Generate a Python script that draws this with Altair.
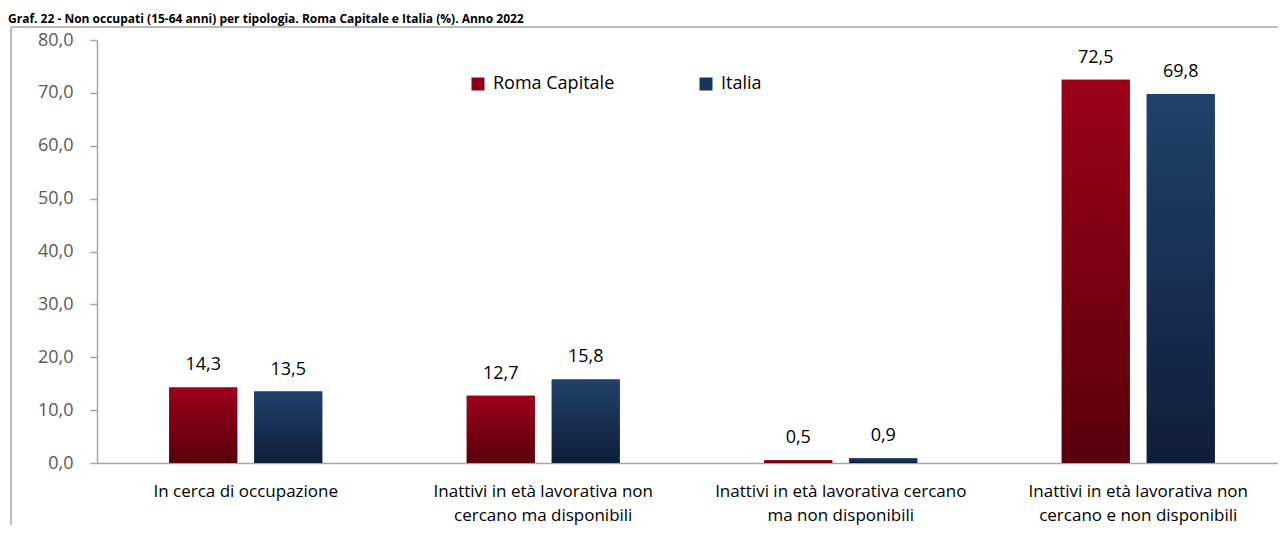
import altair as alt
import pandas as pd

title_text = "Graf. 22 - Non occupati (15-64 anni) per tipologia. Roma Capitale e Italia (%). Anno 2022"
categories = [
    "In cerca di occupazione",
    "Inattivi in età lavorativa non|cercano ma disponibili",
    "Inattivi in età lavorativa cercano|ma non disponibili",
    "Inattivi in età lavorativa non|cercano e non disponibili",
]
series = ["Roma Capitale", "Italia"]
roma = [14.3, 12.7, 0.5, 72.5]
italia = [13.5, 15.8, 0.9, 69.8]
y_ticks = [0, 10, 20, 30, 40, 50, 60, 70, 80]

rows = []
for c, r, i in zip(categories, roma, italia):
    rows.append({"cat": c, "serie": series[0], "val": r})
    rows.append({"cat": c, "serie": series[1], "val": i})
df = pd.DataFrame(rows)

FONT = "Open Sans"
GREY = "#A6A6A6"

base = alt.Chart(df).transform_calculate(
    lbl="replace(format(datum.val, '.1f'), '.', ',')"
)

x_enc = alt.X(
    "cat:N",
    sort=categories,
    scale=alt.Scale(range=[0, 1190], paddingInner=0, paddingOuter=0),
    axis=alt.Axis(
        title=None,
        labelExpr="split(datum.label, '|')",
        labelAngle=0,
        ticks=False,
        domainColor=GREY,
        domainWidth=1.5,
        labelFont=FONT,
        labelFontSize=17,
        labelColor="#000000",
        labelPadding=20,
        labelLimit=0,
        labelLineHeight=24,
    ),
)
xo_enc = alt.XOffset(
    "serie:N", sort=series, scale=alt.Scale(paddingInner=0.2, paddingOuter=0.85)
)
y_enc = alt.Y(
    "val:Q",
    scale=alt.Scale(domain=[0, 80], nice=False),
    axis=alt.Axis(
        title=None,
        values=y_ticks,
        labelExpr="replace(format(datum.value, '.1f'), '.', ',')",
        grid=False,
        tickSize=7,
        tickColor=GREY,
        domainColor=GREY,
        domainWidth=1.5,
        tickWidth=1.5,
        labelFont=FONT,
        labelFontSize=18,
        labelColor="#595959",
        labelPadding=17,
    ),
)

legend_bars = base.mark_bar().encode(
    x=x_enc,
    xOffset=xo_enc,
    y=y_enc,
    color=alt.Color(
        "serie:N",
        sort=series,
        scale=alt.Scale(domain=series, range=["#8A0014", "#1B3558"]),
        legend=alt.Legend(
            title=None,
            orient="none",
            legendX=372,
            legendY=35,
            direction="horizontal",
            symbolType="square",
            symbolSize=169,
            symbolStrokeWidth=0,
            labelFont=FONT,
            labelFontSize=18,
            labelColor="#000000",
            labelOffset=6,
            columnPadding=82,
        ),
    ),
)

grad_red = alt.Gradient(
    gradient="linear",
    stops=[
        alt.GradientStop(color="#9C0019", offset=0),
        alt.GradientStop(color="#58000A", offset=1),
    ],
    x1=0, x2=0, y1=0, y2=1,
)
grad_blue = alt.Gradient(
    gradient="linear",
    stops=[
        alt.GradientStop(color="#21416B", offset=0),
        alt.GradientStop(color="#0E1E38", offset=1),
    ],
    x1=0, x2=0, y1=0, y2=1,
)

red_bars = base.transform_filter(alt.datum.serie == series[0]).mark_bar(
    color=grad_red
).encode(x=x_enc, xOffset=xo_enc, y=y_enc)
blue_bars = base.transform_filter(alt.datum.serie == series[1]).mark_bar(
    color=grad_blue
).encode(x=x_enc, xOffset=xo_enc, y=y_enc)

labels = base.mark_text(
    baseline="alphabetic", dy=-17, font=FONT, fontSize=18, color="#000000"
).encode(x=x_enc, xOffset=xo_enc, y=y_enc, text="lbl:N")

one = alt.Chart(pd.DataFrame({"k": [0]}))
frame_top = one.mark_rule(color=GREY, strokeWidth=1.5).encode(
    x=alt.value(-86), x2=alt.value(1200), y=alt.value(-13)
)
frame_left = one.mark_rule(color=GREY, strokeWidth=1.5).encode(
    x=alt.value(-86), y=alt.value(-13), y2=alt.value(600)
)
title = one.mark_text(
    align="left", baseline="alphabetic", font=FONT, fontSize=12,
    fontWeight="bold", color="#000000",
).encode(x=alt.value(-89), y=alt.value(-17), text=alt.value(title_text))

chart = (
    alt.layer(frame_top, frame_left, title, legend_bars, red_bars, blue_bars, labels)
    .resolve_scale(x="shared")
    .properties(
        width=1181,
        height=423,
        autosize=alt.AutoSizeParams(type="none"),
        padding={"left": 89, "top": 32, "right": 0, "bottom": 62},
    )
    .configure_view(stroke=None)
)

chart.save("out.html", embed_options={"renderer": "svg", "actions": False})
